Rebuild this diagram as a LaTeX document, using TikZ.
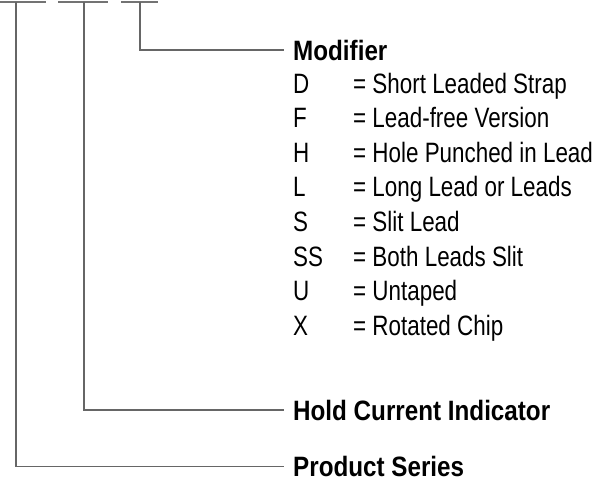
\documentclass[tikz,border=0pt]{standalone}
\usepackage{fontspec}
\setmainfont{Liberation Sans}[FakeStretch=0.80]
\newfontfamily\headfont{Liberation Sans}[FakeStretch=0.865]
\begin{document}
\begin{tikzpicture}[x=1pt,y=-1pt,
  conn/.style={draw=black!60, line width=1.3pt},
  bar/.style={draw=black!55, line width=1.3pt},
  head/.style={anchor=west, inner xsep=9pt, inner ysep=0pt, font=\fontsize{28}{28}\headfont\bfseries, text height=20pt, text depth=0pt},
  item/.style={anchor=base west, inner sep=0pt, font=\fontsize{28}{28}\selectfont}]
\useasboundingbox (0,0) rectangle (607,483);
% top bars
\coordinate (b1l) at (0,2);   \coordinate (b1r) at (46,2);  \coordinate (t1) at (16,2);
\coordinate (b2l) at (58,2);  \coordinate (b2r) at (108,2); \coordinate (t2) at (84,2);
\coordinate (b3l) at (121,2); \coordinate (b3r) at (158,2); \coordinate (t3) at (140,2);
\draw[bar] (b1l) -- (b1r);
\draw[bar] (b2l) -- (b2r);
\draw[bar] (b3l) -- (b3r);
% headings
\node[head] (mod) at (284,50) {Modifier};
\node[head] (hold) at (284,410) {Hold Current Indicator};
\node[head] (prod) at (284,466.5) {Product Series};
% connectors
\draw[conn] (t3) |- (mod.west);
\draw[conn] (t2) |- (hold.west);
\draw[conn] (t1) |- (prod.west);
% list
\foreach \k/\d/\y [count=\i] in {D/Short Leaded Strap/93, F/Lead-free Version/127.6, H/Hole Punched in Lead/162.2, L/Long Lead or Leads/196.8, S/Slit Lead/231.4, SS/Both Leads Slit/266, U/Untaped/300.6, X/Rotated Chip/335.2}{
  \node[item] (k\i) at (293,\y) {\k};
  \node[item] (d\i) at (353,\y) {= \d};
}
\end{tikzpicture}
\end{document}
